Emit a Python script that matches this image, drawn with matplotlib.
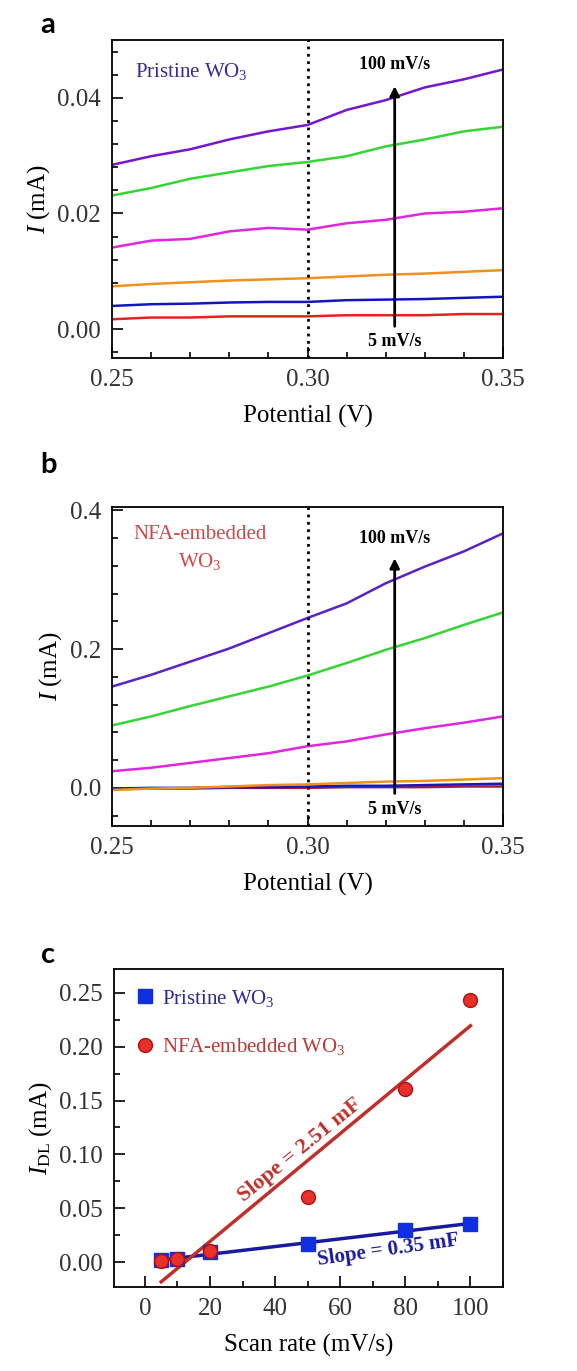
import numpy as np
import matplotlib
matplotlib.use("Agg")
import matplotlib.pyplot as plt
from matplotlib.ticker import MultipleLocator, FormatStrFormatter

plt.rcParams['font.family'] = ['Liberation Serif', 'DejaVu Serif']
plt.rcParams['mathtext.fontset'] = 'custom'
plt.rcParams['mathtext.rm'] = 'Liberation Serif'
plt.rcParams['mathtext.it'] = 'Liberation Serif:italic'
plt.rcParams['mathtext.bf'] = 'Liberation Serif:bold'

# ---------------- data ----------------
potential = [0.25, 0.26, 0.27, 0.28, 0.29, 0.30, 0.31, 0.32, 0.33, 0.34, 0.35]
rates = ['5', '10', '20', '50', '80', '100']
curve_colors_a = ['#e52222', '#1515c0', '#f0901e', '#e026e0', '#35d535', '#7418d0']
curve_colors_b = ['#a02040', '#1818c0', '#f0901e', '#e026e0', '#35d535', '#5a22c8']

# panel a: pristine WO3, current (mA) vs potential
pristine_5 = [0.0017, 0.0020, 0.0020, 0.0022, 0.0022, 0.0022, 0.0024, 0.0024, 0.0024, 0.0026, 0.0026]
pristine_10 = [0.0040, 0.0043, 0.0044, 0.0046, 0.0047, 0.0047, 0.0050, 0.0051, 0.0052, 0.0054, 0.0056]
pristine_20 = [0.0074, 0.0078, 0.0081, 0.0084, 0.0086, 0.0088, 0.0091, 0.0094, 0.0096, 0.0099, 0.0102]
pristine_50 = [0.0141, 0.0153, 0.0156, 0.0169, 0.0175, 0.0172, 0.0183, 0.0189, 0.0200, 0.0203, 0.0209]
pristine_80 = [0.0231, 0.0244, 0.0260, 0.0271, 0.0282, 0.0289, 0.0299, 0.0316, 0.0328, 0.0342, 0.0350]
pristine_100 = [0.0284, 0.0299, 0.0311, 0.0328, 0.0342, 0.0353, 0.0379, 0.0396, 0.0418, 0.0432, 0.0449]

# panel b: NFA-embedded WO3
nfa_5 = [-0.002, -0.001, -0.001, 0.000, 0.000, 0.000, 0.001, 0.001, 0.001, 0.002, 0.002]
nfa_10 = [-0.001, 0.000, 0.000, 0.001, 0.001, 0.002, 0.003, 0.003, 0.004, 0.005, 0.006]
nfa_20 = [-0.003, -0.001, 0.000, 0.002, 0.004, 0.005, 0.007, 0.009, 0.010, 0.012, 0.014]
nfa_50 = [0.024, 0.029, 0.036, 0.043, 0.050, 0.060, 0.067, 0.077, 0.086, 0.094, 0.103]
nfa_80 = [0.090, 0.103, 0.118, 0.132, 0.146, 0.162, 0.180, 0.199, 0.216, 0.235, 0.253]
nfa_100 = [0.146, 0.163, 0.182, 0.201, 0.223, 0.245, 0.266, 0.295, 0.319, 0.341, 0.367]

# panel c: double-layer current at 0.30 V vs scan rate
scan_rate = [5, 10, 20, 50, 80, 100]
idl_pristine = [0.0016, 0.0030, 0.0093, 0.0170, 0.0295, 0.0357]
idl_nfa = [0.0010, 0.0030, 0.0100, 0.0605, 0.1610, 0.2430]

W, H = 577, 1371
fig = plt.figure(figsize=(W / 100, H / 100), dpi=100)


def box(l, t, r, b):
    return [l / W, 1 - b / H, (r - l) / W, (b - t) / H]


def style(ax):
    for s in ax.spines.values():
        s.set_linewidth(1.3)
    ax.tick_params(which='both', direction='in', top=False, right=False,
                   labelsize=18, labelcolor='#333333', width=1.2)
    ax.tick_params(which='major', length=8, pad=8)
    ax.tick_params(which='minor', length=4)


# ---------------- panel a ----------------
ax = fig.add_axes(box(112, 40, 503, 358))
series_a = [pristine_5, pristine_10, pristine_20, pristine_50, pristine_80, pristine_100]
for ys, c in zip(series_a, curve_colors_a):
    ax.plot(potential, ys, color=c, lw=1.8)
ax.axvline(0.30, color='black', ls=':', lw=2)
ax.annotate('', xy=(0.3223, 0.0425), xytext=(0.3223, 0.0),
            arrowprops=dict(arrowstyle='-|>', color='black', lw=2, mutation_scale=14))
ax.text(0.3223, 0.0458, '100 mV/s', ha='center', va='center', fontsize=13, fontweight='bold')
ax.text(0.3223, -0.0022, '5 mV/s', ha='center', va='center', fontsize=13, fontweight='bold')
ax.text(0.256, 0.0445, 'Pristine WO$_3$', color='#3a2a9a', fontsize=15, va='center')
ax.set_xlim(0.25, 0.35)
ax.set_ylim(-0.005, 0.05)
ax.xaxis.set_major_locator(MultipleLocator(0.05))
ax.xaxis.set_minor_locator(MultipleLocator(0.01))
ax.yaxis.set_major_locator(MultipleLocator(0.02))
ax.yaxis.set_minor_locator(MultipleLocator(0.004))
ax.xaxis.set_major_formatter(FormatStrFormatter('%.2f'))
ax.yaxis.set_major_formatter(FormatStrFormatter('%.2f'))
ax.set_xlabel('Potential (V)', fontsize=18, labelpad=10)
ax.set_ylabel('$I$ (mA)', fontsize=18)
style(ax)
fig.text(48 / W, 1 - 25 / H, 'a', fontsize=21, fontweight='bold', family='Lato',
         ha='center', va='center')

# ---------------- panel b ----------------
ax = fig.add_axes(box(112, 507, 503, 826))
series_b = [nfa_5, nfa_10, nfa_20, nfa_50, nfa_80, nfa_100]
for ys, c in zip(series_b, curve_colors_b):
    ax.plot(potential, ys, color=c, lw=1.8)
ax.axvline(0.30, color='black', ls=':', lw=2)
ax.annotate('', xy=(0.3223, 0.335), xytext=(0.3223, -0.012),
            arrowprops=dict(arrowstyle='-|>', color='black', lw=2, mutation_scale=14))
ax.text(0.3223, 0.36, '100 mV/s', ha='center', va='center', fontsize=13, fontweight='bold')
ax.text(0.3223, -0.031, '5 mV/s', ha='center', va='center', fontsize=13, fontweight='bold')
ax.text(0.2725, 0.345, 'NFA-embedded\nWO$_3$', color='#d04848', fontsize=15,
        ha='center', va='center', linespacing=1.4)
ax.set_xlim(0.25, 0.35)
ax.set_ylim(-0.055, 0.405)
ax.xaxis.set_major_locator(MultipleLocator(0.05))
ax.xaxis.set_minor_locator(MultipleLocator(0.01))
ax.yaxis.set_major_locator(MultipleLocator(0.2))
ax.yaxis.set_minor_locator(MultipleLocator(0.04))
ax.xaxis.set_major_formatter(FormatStrFormatter('%.2f'))
ax.yaxis.set_major_formatter(FormatStrFormatter('%.1f'))
ax.set_xlabel('Potential (V)', fontsize=18, labelpad=10)
ax.set_ylabel('$I$ (mA)', fontsize=18)
style(ax)
fig.text(48 / W, 1 - 465 / H, 'b', fontsize=21, fontweight='bold', family='Lato',
         ha='center', va='center')

# ---------------- panel c ----------------
ax = fig.add_axes(box(114, 969, 503, 1287))
x = np.array(scan_rate, dtype=float)
kp, bp = np.polyfit(x, idl_pristine, 1)
kn, bn = np.polyfit(x, idl_nfa, 1)
xf = np.array([x.min(), x.max()])
ax.plot(xf, kp * xf + bp, color='#1a1aa0', lw=2.5, zorder=2)
ax.plot(xf, kn * xf + bn, color='#c0302a', lw=2.5, zorder=2)
ax.plot(x, idl_pristine, 's', color='#1030e0', ms=10, zorder=3, label='Pristine WO$_3$')
ax.plot(x, idl_nfa, 'o', color='#e8302a', mec='#b01010', ms=10, zorder=4,
        label='NFA-embedded WO$_3$')
leg = ax.legend(loc='upper left', frameon=False, fontsize=15, handletextpad=0.2,
                labelspacing=1.3, borderaxespad=0.5, handlelength=1.2)
for t, c in zip(leg.get_texts(), ['#2a2a9a', '#c03838']):
    t.set_color(c)
ax.text(47.7, 0.104, 'Slope = 2.51 mF', color='#c0302a', fontsize=16, fontweight='bold',
        rotation=39, ha='center', va='center')
ax.text(74.8, 0.011, 'Slope = 0.35 mF', color='#1a1aa0', fontsize=15, fontweight='bold',
        rotation=8, ha='center', va='center')
ax.set_xlim(-9.5, 110)
ax.set_ylim(-0.023, 0.272)
ax.xaxis.set_major_locator(MultipleLocator(20))
ax.xaxis.set_minor_locator(MultipleLocator(10))
ax.yaxis.set_major_locator(MultipleLocator(0.05))
ax.yaxis.set_minor_locator(MultipleLocator(0.025))
ax.yaxis.set_major_formatter(FormatStrFormatter('%.2f'))
ax.set_xlabel('Scan rate (mV/s)', fontsize=18, labelpad=10)
ax.set_ylabel('$I_{\\rm DL}$ (mA)', fontsize=18)
style(ax)
fig.text(48 / W, 1 - 955 / H, 'c', fontsize=21, fontweight='bold', family='Lato',
         ha='center', va='center')

fig.savefig('out.png', dpi=100)
